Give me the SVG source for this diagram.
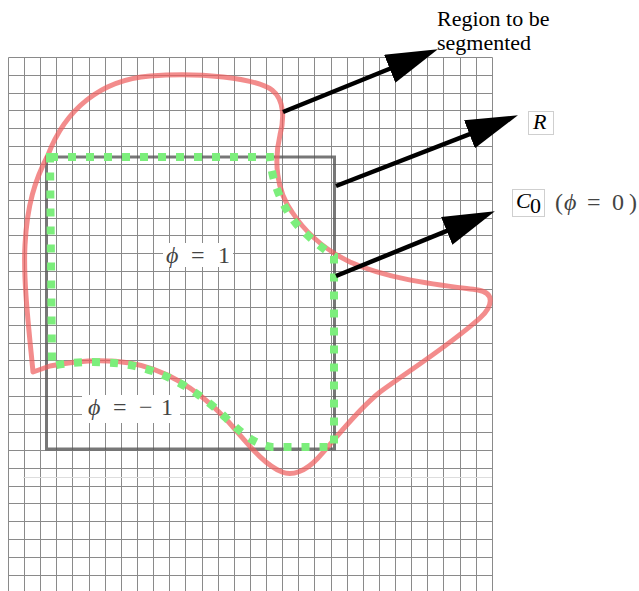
<svg xmlns="http://www.w3.org/2000/svg" width="639" height="591" viewBox="0 0 639 591">
<style>
.grid{stroke:#8a8a8a;stroke-width:1;fill:none}
.seam{stroke:#dddddd;stroke-width:1;fill:none}
.rect{stroke:#555;stroke-opacity:0.8;stroke-width:3;fill:none}
.red{stroke:#ee5f5f;stroke-opacity:0.72;stroke-width:5;fill:none;stroke-linejoin:round}
.green{stroke:#7cee7c;stroke-width:8;fill:none;stroke-dasharray:8 10}
.arrow{stroke:#000;stroke-width:4.5;fill:none;marker-end:url(#ah)}
.lbl{font-family:"Liberation Serif",serif;font-size:22px;fill:#000}
.math{font-family:"Liberation Serif",serif;font-size:24px;fill:#444}
.box{fill:#fff;stroke:#cfcfcf;stroke-width:1}
.bg{fill:#fff;stroke:none}
</style>
<defs>
<marker id="ah" markerUnits="userSpaceOnUse" markerWidth="54" markerHeight="32" refX="30" refY="15" orient="auto">
<path d="M0,0 L52,15 L0,30 Z" fill="#000"/>
</marker>
</defs>
<rect x="0" y="0" width="639" height="591" fill="#fff"/>
<g id="grid">
<path class="grid" d="M8.5,57.5V591M24.5,57.5V591M40.5,57.5V591M56.5,57.5V591M72.5,57.5V591M89.5,57.5V591M105.5,57.5V591M121.5,57.5V591M137.5,57.5V591M153.5,57.5V591M169.5,57.5V591M185.5,57.5V591M202.5,57.5V591M218.5,57.5V591M234.5,57.5V591M250.5,57.5V591M266.5,57.5V591M282.5,57.5V591M298.5,57.5V591M314.5,57.5V591M331.5,57.5V591M347.5,57.5V591M363.5,57.5V591M379.5,57.5V591M395.5,57.5V591M411.5,57.5V591M427.5,57.5V591M443.5,57.5V591M460.5,57.5V591M476.5,57.5V591M492.5,57.5V591"/>
<path class="grid" d="M8.5,57.5H492.5M8.5,75.5H492.5M8.5,93.5H492.5M8.5,110.5H492.5M8.5,128.5H492.5M8.5,146.5H492.5M8.5,164.5H492.5M8.5,182.5H492.5M8.5,200.5H492.5M8.5,218.5H492.5M8.5,235.5H492.5M8.5,253.5H492.5M8.5,271.5H492.5M8.5,289.5H492.5M8.5,307.5H492.5M8.5,325.5H492.5M8.5,343.5H492.5M8.5,360.5H492.5M8.5,378.5H492.5M8.5,396.5H492.5M8.5,414.5H492.5M8.5,432.5H492.5M8.5,450.5H492.5M8.5,468.5H492.5M8.5,486.5H492.5M8.5,503.5H492.5M8.5,521.5H492.5M8.5,539.5H492.5M8.5,557.5H492.5M8.5,575.5H492.5"/>
<path class="seam" d="M23,477.5H492"/>
</g>
<g id="R-rect">
<rect class="rect" x="46.5" y="157" width="288" height="292"/>
</g>
<g id="region">
<path class="red" d="M33,372 C29,330 23,280 25,245 C27,205 35,180 48,155 C65,110 100,80 150,76 C200,72 255,78 272,90 C285,100 284,120 280,135 C274,160 276,190 292,212 C305,232 325,250 350,262 C390,280 440,285 478,290 C495,293 493,306 480,318 C450,345 410,370 380,392 C355,412 335,440 318,458 C305,472 292,476 282,472 C262,464 245,440 225,418 C200,392 170,370 130,363 C100,358 70,362 50,366 Z"/>
</g>
<g id="C0">
<path class="green" d="M50,157 L270,157 C272,185 285,212 300,228 C312,240 322,248 334,256 L334,447 L272,447 C256,445 242,434 226,418 C200,393 170,373 130,365 C100,360 70,362 52,366 Z"/>
</g>
<g id="connectors">
<line class="arrow" x1="283" y1="112" x2="417.5" y2="57.5"/>
<line class="arrow" x1="336" y1="186" x2="497.4" y2="123.3"/>
<line class="arrow" x1="336" y1="276" x2="474.5" y2="219.6"/>
</g>
<g id="label-region">
<text class="lbl" x="437" y="26">Region to be</text>
<text class="lbl" x="437" y="50">segmented</text>
</g>
<g id="label-R">
<rect class="box" x="528.5" y="111.5" width="25" height="23"/>
<text class="lbl" x="533" y="129" font-style="italic" font-size="19">R</text>
</g>
<g id="label-C0">
<rect class="box" x="512.5" y="189.5" width="32" height="27"/>
<text class="lbl" x="516" y="208" font-style="italic" font-size="20">C</text>
<text class="lbl" x="530" y="213" font-size="11">0</text>
<text class="math" x="555" y="210" font-size="26">(</text>
<text class="math" x="564" y="210" font-size="26" font-style="italic">ϕ</text>
<text class="math" x="587" y="210" font-size="26">=</text>
<text class="math" x="612" y="210" font-size="26">0</text>
<text class="math" x="629" y="210" font-size="26">)</text>
</g>
<g id="label-phi1">
<rect class="bg" x="163" y="243" width="70" height="24"/>
<text class="math" x="166" y="263" font-style="italic">ϕ</text>
<text class="math" x="191" y="263">=</text>
<text class="math" x="218" y="263">1</text>
</g>
<g id="label-phim1">
<rect class="bg" x="82" y="395" width="98" height="28"/>
<text class="math" x="88" y="415" font-style="italic">ϕ</text>
<text class="math" x="113" y="415">=</text>
<text class="math" x="139" y="415">−</text>
<text class="math" x="161" y="415">1</text>
</g>
</svg>
